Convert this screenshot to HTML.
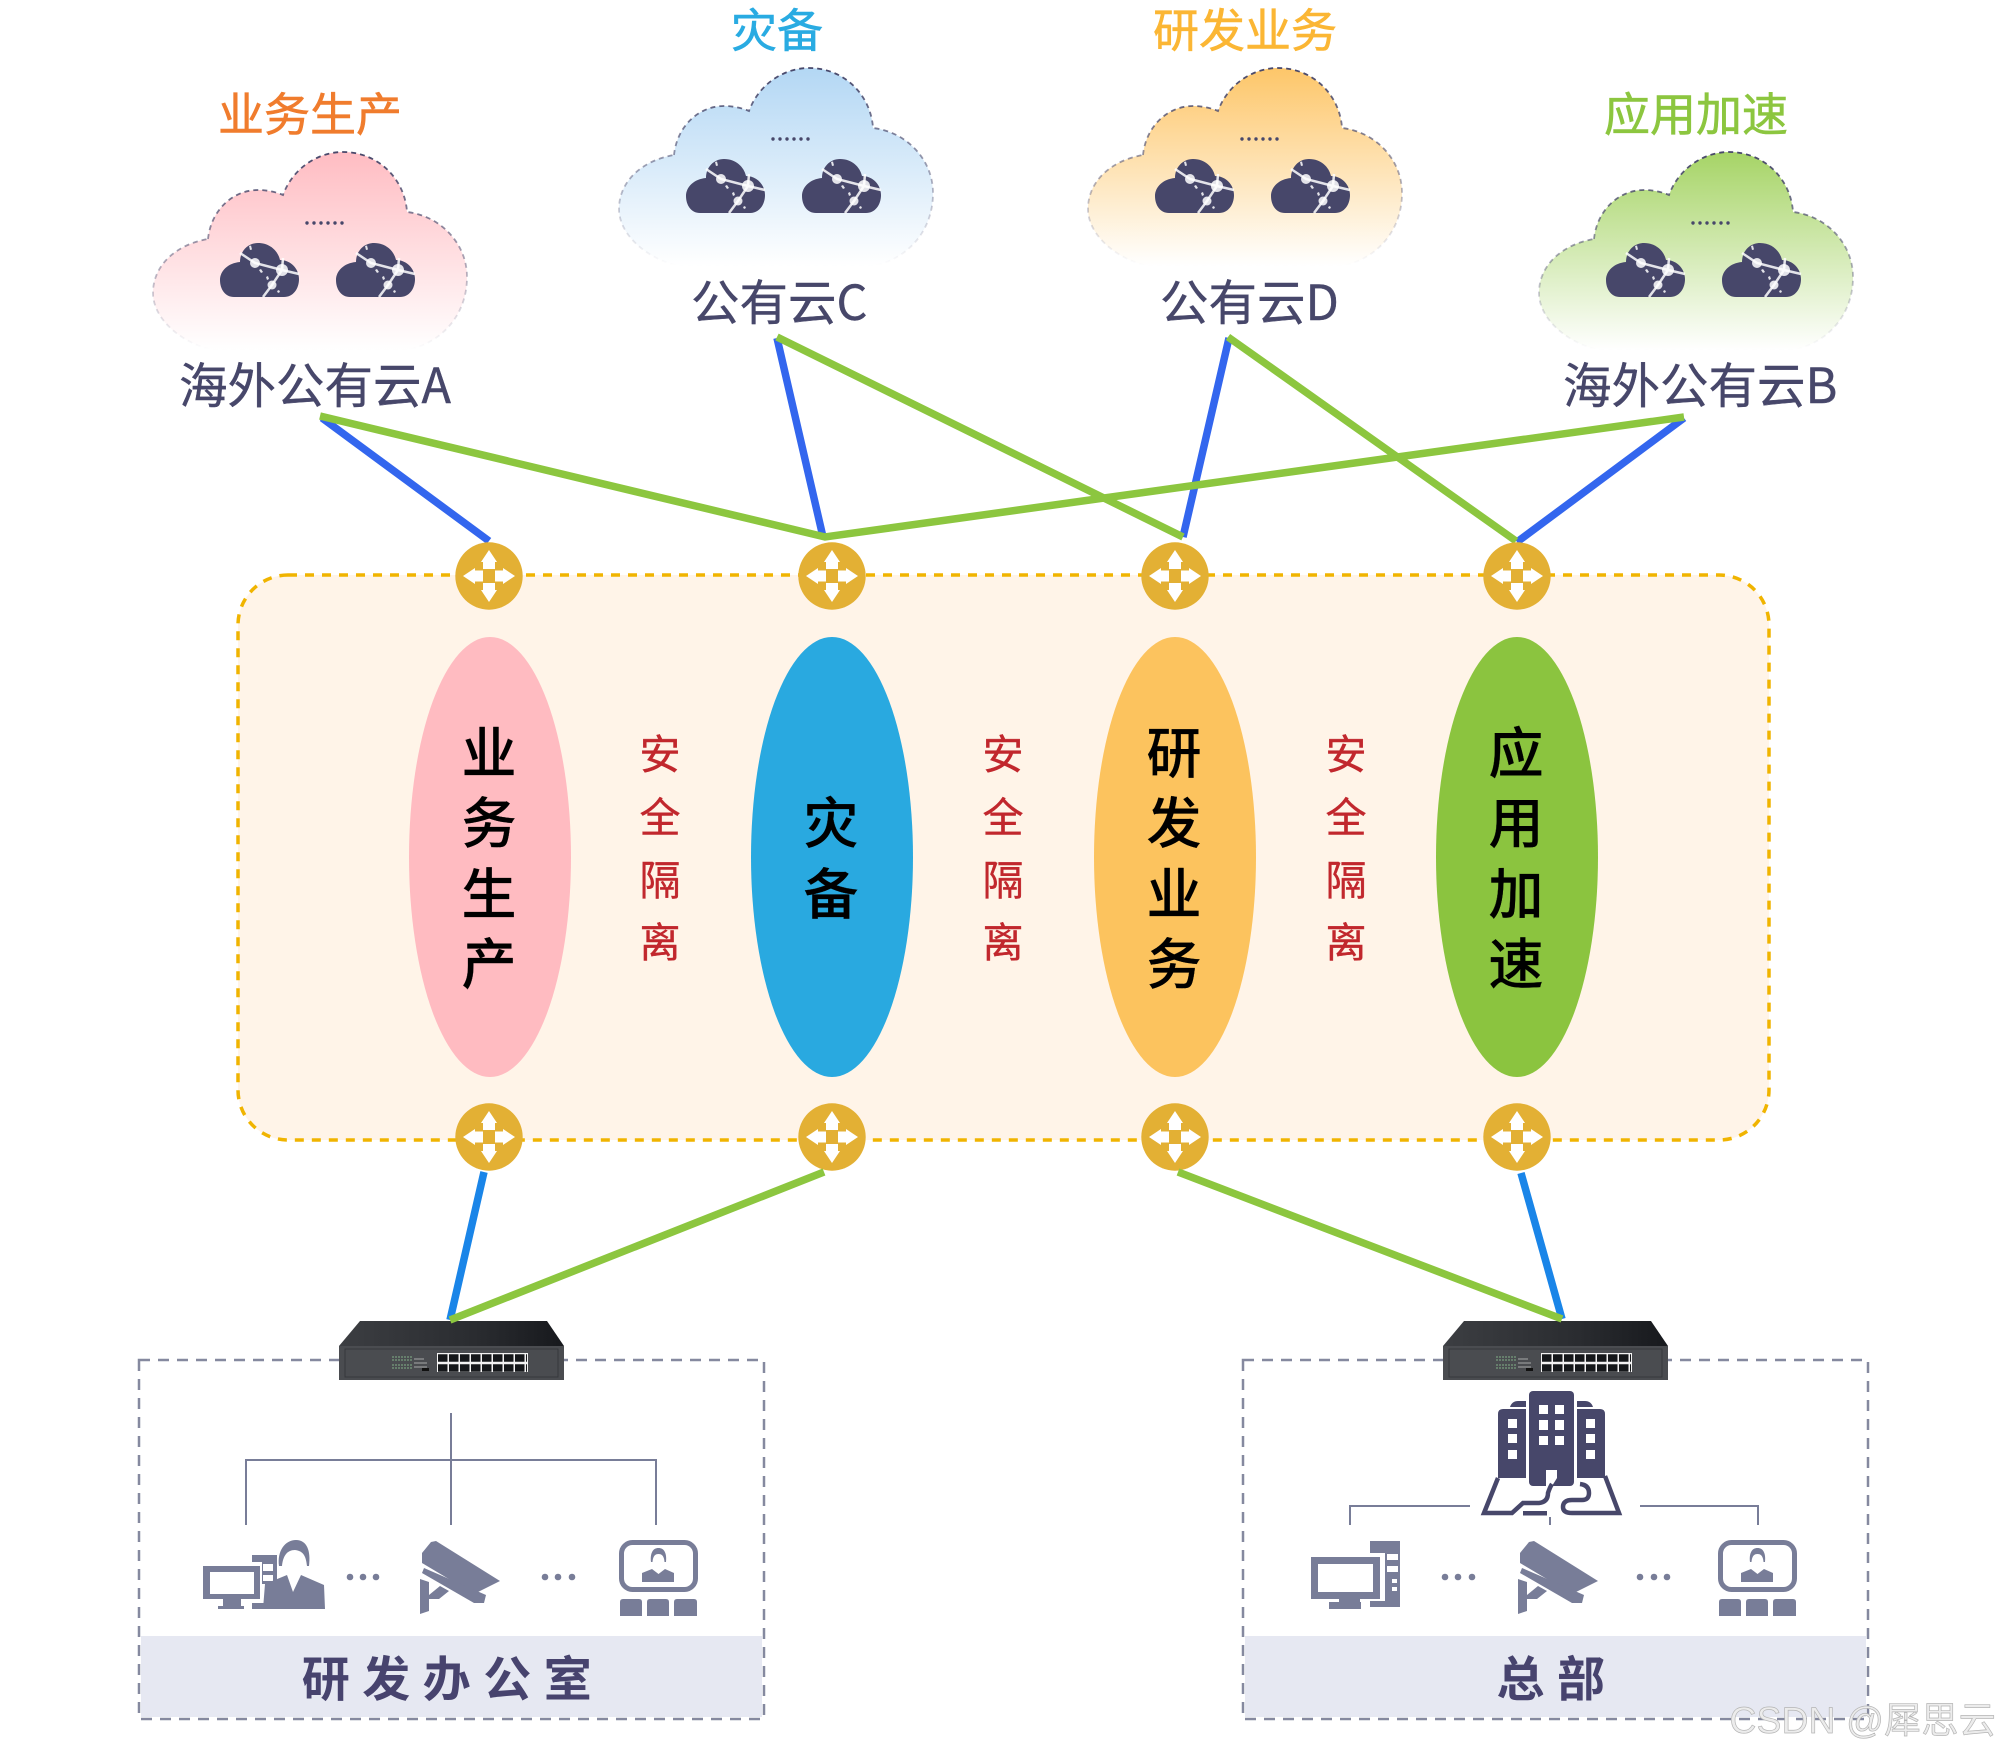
<!DOCTYPE html>
<html lang="zh"><head><meta charset="utf-8"><style>
html,body{margin:0;padding:0;background:#fff;width:2001px;height:1751px;overflow:hidden}
svg{display:block}
text{font-family:"Liberation Sans","Noto Sans CJK SC",sans-serif}
.n{font-family:"Noto Sans CJK SC","Liberation Sans",sans-serif}
</style></head><body>
<svg width="2001" height="1751" viewBox="0 0 2001 1751" xmlns="http://www.w3.org/2000/svg">
<defs>
<linearGradient id="gp" x1="0" y1="0" x2="0" y2="1"><stop offset="0" stop-color="#ffbcc2"/><stop offset="1" stop-color="#fff"/></linearGradient>
<linearGradient id="gb" x1="0" y1="0" x2="0" y2="1"><stop offset="0" stop-color="#b3d7f4"/><stop offset="1" stop-color="#fff"/></linearGradient>
<linearGradient id="go" x1="0" y1="0" x2="0" y2="1"><stop offset="0" stop-color="#fdc669"/><stop offset="1" stop-color="#fff"/></linearGradient>
<linearGradient id="gg" x1="0" y1="0" x2="0" y2="1"><stop offset="0" stop-color="#a6d466"/><stop offset="1" stop-color="#fff"/></linearGradient>
<linearGradient id="gs" x1="0" y1="0" x2="0" y2="1"><stop offset="0" stop-color="#47476a"/><stop offset="1" stop-color="#47476a" stop-opacity="0"/></linearGradient>
<linearGradient id="sw" x1="0" y1="0" x2="1" y2="0"><stop offset="0" stop-color="#3c3e42"/><stop offset=".6" stop-color="#2a2c30"/><stop offset="1" stop-color="#17191d"/></linearGradient>
<path id="cl" d="M55 87C58 58 80 38 105 38C114 38 123 40 130 43C140 16 165 0 190 0C226 0 252 28 254 60C288 64 314 92 314 125C314 162 290 190 255 198L60 198C25 190 0 165 0 141C0 112 25 92 55 87Z"/>
<symbol id="ci" viewBox="0 0 79 54" overflow="visible">
<path fill="#47476a" d="M14 54C5 54 0 46 0 37C0 28 8 20 20 19C20 8 28 0 38 0C50 0 58 8 60 17C71 17 79 26 79 36C79 46 73 54 64 54Z"/>
<g stroke="#fff" stroke-opacity=".85" stroke-width="2.500" fill="none"><path d="M20 10L35 20L62 27L79 31M63 15L62 27L52 42L43 54"/></g>
<g fill="#fff" fill-opacity=".85"><circle cx="35" cy="20" r="5"/><circle cx="62" cy="27" r="6"/><circle cx="52" cy="42" r="4.500"/><path d="M29 3l2-.5 1 4-2 .5zM39 27l2-1 2 3-2 1zM46 34l2-1 1 3-2 1zM57 48l2-1 1 2-2 1z"/></g>
</symbol>
<symbol id="cloud" viewBox="0 0 314 198" overflow="visible">
<use href="#ci" x="67" y="91" width="79" height="54"/><use href="#ci" x="183" y="91" width="79" height="54"/>
<g fill="#47476a"><circle cx="154" cy="71" r="1.700"/><circle cx="161" cy="71" r="1.700"/><circle cx="168" cy="71" r="1.700"/><circle cx="175" cy="71" r="1.700"/><circle cx="182" cy="71" r="1.700"/><circle cx="189" cy="71" r="1.700"/></g>
</symbol>
<symbol id="rt" viewBox="-34 -34 68 68" overflow="visible">
<circle r="33.700" fill="#e3b034"/>
<path fill="#fff" d="M0-26L-8-14H-6V-7H6V-14H8ZM0 26L-8 14H-6V7H6V14H8ZM-26 0L-14-8V-5.500H-6V5.500H-14V8ZM26 0L14-8V-5.500H6V5.500H14V8Z"/>
</symbol>
<symbol id="swi" viewBox="0 0 225 59">
<path d="M21 0H208L225 25H0Z" fill="url(#sw)"/>
<rect y="25" width="225" height="34" fill="#4a4c50"/>
<rect x="6" y="28" width="213" height="28" fill="none" stroke="#35373b" stroke-width="1"/>
<rect x="98" y="32" width="91" height="19" fill="#f2f2f2"/>
<path d="M99 37H188M99 47H188" stroke="#15171a" stroke-width="7.500" stroke-dasharray="9.500 1.500" fill="none"/>
<path d="M53 36H73M53 39H73M53 44H73M53 47H73" stroke="#6f8f76" stroke-width="1.500" stroke-dasharray="2 1" fill="none"/>
<path d="M75 38H85M75 42H88M75 46H88" stroke="#a5a7a9" stroke-width="1"/>
<rect x="83" y="47" width="7" height="3" fill="#111"/>
</symbol>
<symbol id="cam" viewBox="0 0 81 73">
<path fill="#787d98" d="M16 0L80 40L54 53L2 22V12L11 1Z"/>
<path fill="#787d98" d="M4 27L66 54L64 62H54L2 32Z"/>
<path fill="#787d98" d="M0 38L9 41V54L20 45L29 50L19 58H9V70L0 73Z"/>
</symbol>
<symbol id="conf" viewBox="0 0 79 76">
<rect x="2.500" y="2.500" width="74" height="47" rx="11" fill="#fff" stroke="#787d98" stroke-width="5"/>
<path fill="#787d98" d="M23 42V33L33 29L39.500 34L46 29L55 33V42Z"/>
<path fill="#787d98" d="M32 22C31 13 34 8 39.500 8C45 8 48 13 47 22L45.500 22C45 16 43 14 39.500 14C36 14 34 16 33.500 22Z"/>
<path fill="#787d98" d="M1 62Q1 59 4 59H20Q23 59 23 62V76H1ZM28 62Q28 59 31 59H47Q50 59 50 62V76H28ZM55 62Q55 59 58 59H75Q78 59 78 62V76H55Z"/>
</symbol>
</defs>

<!-- clouds -->
<use href="#cl" transform="translate(153,152)" fill="url(#gp)" stroke="url(#gs)" stroke-width="1.800" stroke-dasharray="5 4"/>
<use href="#cl" transform="translate(619,68)" fill="url(#gb)" stroke="url(#gs)" stroke-width="1.800" stroke-dasharray="5 4"/>
<use href="#cl" transform="translate(1088,68)" fill="url(#go)" stroke="url(#gs)" stroke-width="1.800" stroke-dasharray="5 4"/>
<use href="#cl" transform="translate(1539,152)" fill="url(#gg)" stroke="url(#gs)" stroke-width="1.800" stroke-dasharray="5 4"/>
<use href="#cloud" x="153" y="152" width="314" height="198"/>
<use href="#cloud" x="619" y="68" width="314" height="198"/>
<use href="#cloud" x="1088" y="68" width="314" height="198"/>
<use href="#cloud" x="1539" y="152" width="314" height="198"/>

<!-- cloud titles -->
<g font-size="46" text-anchor="middle" stroke-width=".6">
<text class="n" x="310" y="131" fill="#f07c2d" stroke="#f07c2d">业务生产</text>
<text class="n" x="777" y="47" fill="#29abe2" stroke="#29abe2">灾备</text>
<text class="n" x="1245" y="47" fill="#fbb634" stroke="#fbb634">研发业务</text>
<text class="n" x="1696" y="131" fill="#8cc63f" stroke="#8cc63f">应用加速</text>
</g>
<g font-size="48.500" fill="#47476a" stroke="#47476a" stroke-width=".4">
<text class="n" x="179" y="403">海外公有云A</text>
<text class="n" x="691" y="320">公有云C</text>
<text class="n" x="1160" y="320">公有云D</text>
<text class="n" x="1563" y="403">海外公有云B</text>
</g>

<!-- top connectors -->
<g stroke="#3366ee" stroke-width="7.500" fill="none">
<path d="M322 418L489 541M777 338L823 537M1229 338L1183 537M1684 418L1517 542"/>
</g>
<g stroke="#8cc63f" stroke-width="7.500" fill="none">
<path d="M320 416L825 537L1684 417M777 337L1183 537M1228 337L1516 541"/>
</g>

<!-- main panel -->
<rect x="238" y="575" width="1531" height="565" rx="50" fill="#fff4e8" stroke="#f0b400" stroke-width="3.500" stroke-dasharray="9 8"/>
<ellipse cx="490" cy="857" rx="81" ry="220" fill="#ffbbc1"/>
<ellipse cx="832" cy="857" rx="81" ry="220" fill="#29a9e0"/>
<ellipse cx="1175" cy="857" rx="81" ry="220" fill="#fcc35e"/>
<ellipse cx="1517" cy="857" rx="81" ry="220" fill="#8bc43f"/>

<use href="#rt" x="455" y="542" width="68" height="68"/>
<use href="#rt" x="798" y="542" width="68" height="68"/>
<use href="#rt" x="1141" y="542" width="68" height="68"/>
<use href="#rt" x="1483" y="542" width="68" height="68"/>
<use href="#rt" x="455" y="1103" width="68" height="68"/>
<use href="#rt" x="798" y="1103" width="68" height="68"/>
<use href="#rt" x="1141" y="1103" width="68" height="68"/>
<use href="#rt" x="1483" y="1103" width="68" height="68"/>

<!-- ellipse text -->
<g font-size="55" text-anchor="middle" fill="#000" stroke="#000" stroke-width=".2" font-weight="500">
<text class="n" x="489" y="773">业</text><text class="n" x="489" y="843">务</text><text class="n" x="489" y="914">生</text><text class="n" x="489" y="984">产</text>
<text class="n" x="831" y="843">灾</text><text class="n" x="831" y="914">备</text>
<text class="n" x="1174" y="773">研</text><text class="n" x="1174" y="843">发</text><text class="n" x="1174" y="914">业</text><text class="n" x="1174" y="984">务</text>
<text class="n" x="1516" y="773">应</text><text class="n" x="1516" y="843">用</text><text class="n" x="1516" y="914">加</text><text class="n" x="1516" y="984">速</text>
</g>
<g font-size="41" text-anchor="middle" fill="#c1272d" stroke="#c1272d" stroke-width=".4">
<text class="n" x="660" y="769">安</text><text class="n" x="660" y="832">全</text><text class="n" x="660" y="895">隔</text><text class="n" x="660" y="957">离</text>
<text class="n" x="1003" y="769">安</text><text class="n" x="1003" y="832">全</text><text class="n" x="1003" y="895">隔</text><text class="n" x="1003" y="957">离</text>
<text class="n" x="1346" y="769">安</text><text class="n" x="1346" y="832">全</text><text class="n" x="1346" y="895">隔</text><text class="n" x="1346" y="957">离</text>
</g>

<!-- offices -->
<g fill="none" stroke="#85899f" stroke-width="2.500" stroke-dasharray="11 8">
<rect x="139" y="1360" width="625" height="359"/>
<rect x="1243" y="1360" width="625" height="359"/>
</g>
<rect x="141" y="1636" width="621" height="81" fill="#e6e8f2"/>
<rect x="1245" y="1636" width="621" height="81" fill="#e6e8f2"/>
<text class="n" x="453" y="1696" font-size="48" font-weight="700" fill="#47436e" text-anchor="middle" letter-spacing="12.500">研发办公室</text>
<text class="n" x="1557" y="1696" font-size="48" font-weight="700" fill="#47436e" text-anchor="middle" letter-spacing="12.500">总部</text>

<!-- switches -->
<use href="#swi" x="339" y="1321" width="225" height="59"/>
<use href="#swi" x="1443" y="1321" width="225" height="59"/>

<!-- bottom connectors -->
<path d="M484 1172L450 1320M1521 1173L1562 1319" stroke="#1a85e8" stroke-width="7.500" fill="none"/>
<path d="M824 1172L450 1320M1178 1172L1562 1319" stroke="#8cc63f" stroke-width="7.500" fill="none"/>

<!-- left office -->
<path d="M451 1413V1525M246 1525V1460H656V1525" fill="none" stroke="#787d98" stroke-width="2"/>
<g fill="#787d98">
<path d="M203 1566H260V1599H241V1606H244V1609H218V1606H223V1599H203Z"/>
<rect x="210" y="1572" width="44" height="22" fill="#fff"/>
<path d="M252 1555H277V1584H262V1562H252ZM252 1603H266V1609H252Z"/>
<rect x="263" y="1564" width="10" height="7" fill="#fff"/><rect x="263" y="1575" width="10" height="6" fill="#fff"/>
<path d="M263 1609L265 1584L287 1575L293 1592L301 1575L324 1585L325 1609Z"/>
<path d="M279 1566C277 1551 285 1540 296 1540C307 1540 311 1551 309 1566L307 1566C306 1557 304 1551 295 1550C287 1550 283 1556 282 1566Z"/>
<circle cx="350" cy="1577" r="3.300"/><circle cx="363" cy="1577" r="3.300"/><circle cx="376" cy="1577" r="3.300"/>
<circle cx="545" cy="1577" r="3.300"/><circle cx="558" cy="1577" r="3.300"/><circle cx="572" cy="1577" r="3.300"/>
</g>
<use href="#cam" x="420" y="1541" width="81" height="73"/>
<use href="#conf" x="619" y="1540" width="79" height="76"/>

<!-- right office -->
<path d="M1470 1506H1350V1525M1640 1506H1758V1525M1550 1517V1525" fill="none" stroke="#787d98" stroke-width="2"/>
<g transform="translate(2,3)">
<g fill="#47476a">
<rect x="1527" y="1388" width="45" height="95" rx="4"/>
<path d="M1496 1411Q1496 1406 1501 1406H1524V1475H1496ZM1575 1406H1598Q1603 1406 1603 1411V1475H1575Z"/>
<path d="M1508 1404Q1510 1398 1516 1398H1524V1404ZM1575 1404V1398H1583Q1589 1398 1591 1404Z"/>
</g>
<g fill="#fff">
<rect x="1537" y="1402" width="9" height="9"/><rect x="1553" y="1402" width="9" height="9"/><rect x="1537" y="1417" width="9" height="10"/><rect x="1553" y="1417" width="9" height="10"/><rect x="1537" y="1433" width="9" height="9"/><rect x="1553" y="1433" width="9" height="9"/>
<rect x="1506" y="1416" width="9" height="9"/><rect x="1506" y="1431" width="9" height="9"/><rect x="1506" y="1447" width="9" height="9"/>
<rect x="1584" y="1416" width="9" height="9"/><rect x="1584" y="1431" width="9" height="9"/><rect x="1584" y="1447" width="9" height="9"/>
<path d="M1544 1467H1555V1475L1550 1483H1544Z"/>
</g>
<path d="M1496 1475L1482 1510H1510L1521 1500H1537Q1546 1499 1546 1490Q1548 1484 1550 1481M1603 1473L1617 1510H1570Q1561 1510 1561 1504Q1561 1497 1570 1497H1580Q1587 1497 1587 1490Q1587 1482 1578 1481" fill="none" stroke="#47476a" stroke-width="4.500"/>
<rect x="1521" y="1508" width="24" height="4.500" fill="#47476a"/>
</g>
<g fill="#787d98">
<path d="M1311 1557H1380V1599H1360V1604H1339V1599H1311Z"/>
<rect x="1318" y="1564" width="55" height="28" fill="#fff"/>
<rect x="1329" y="1602" width="32" height="7"/>
<path d="M1370 1541H1400V1607H1370V1601H1385V1553H1370Z"/>
<rect x="1387" y="1554" width="11" height="6" fill="#fff"/><rect x="1387" y="1566" width="11" height="6" fill="#fff"/><rect x="1392" y="1579" width="5" height="4" fill="#fff"/><rect x="1392" y="1587" width="5" height="4" fill="#fff"/>
<circle cx="1445" cy="1577" r="3.300"/><circle cx="1458" cy="1577" r="3.300"/><circle cx="1472" cy="1577" r="3.300"/>
<circle cx="1640" cy="1577" r="3.300"/><circle cx="1654" cy="1577" r="3.300"/><circle cx="1667" cy="1577" r="3.300"/>
</g>
<use href="#cam" x="1518" y="1541" width="81" height="73"/>
<use href="#conf" x="1718" y="1540" width="79" height="76"/>

<!-- watermark -->
<text x="1996" y="1733" font-size="37" text-anchor="end" fill="#ececec" stroke="#b5b5b5" stroke-width=".7" letter-spacing=".3" style="font-family:'Liberation Sans','Noto Sans CJK SC',sans-serif">CSDN @犀思云</text>
</svg>
</body></html>
